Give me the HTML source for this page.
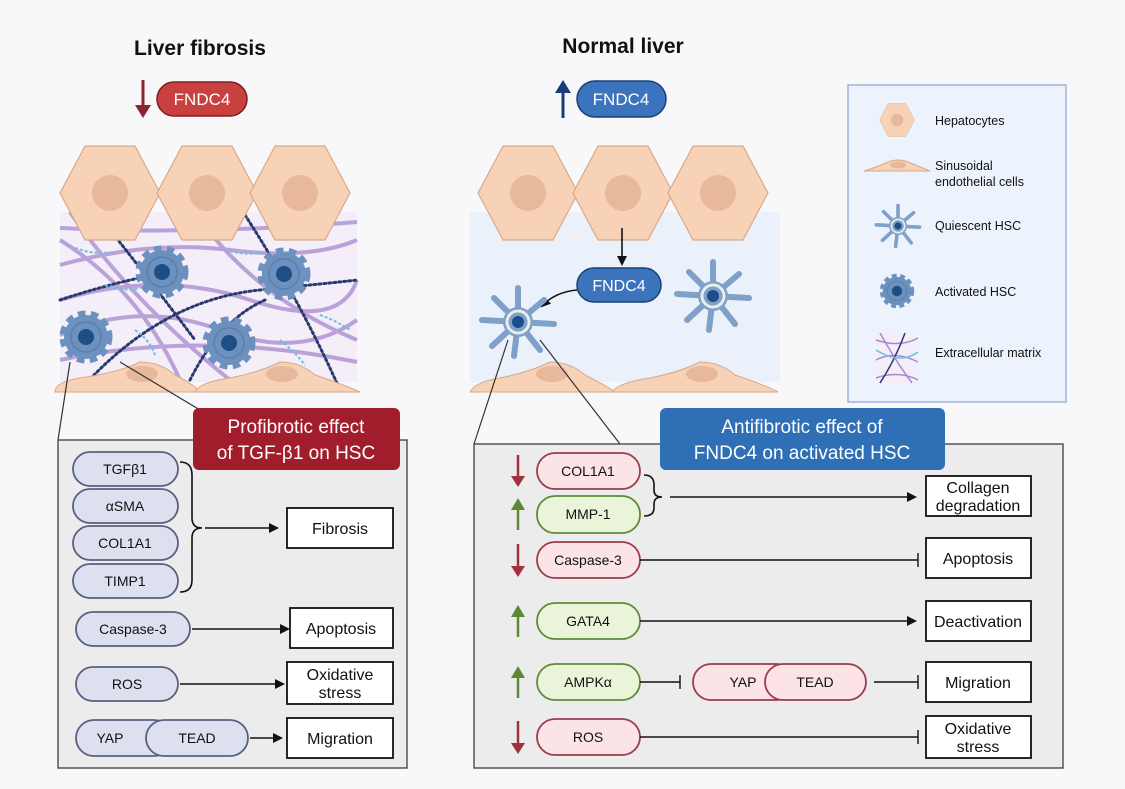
<!DOCTYPE html>
<html><head><meta charset="utf-8"><style>
html,body{margin:0;padding:0;background:#f8f8fa}
svg{display:block}
text{font-family:"Liberation Sans",sans-serif}
</style></head><body>
<svg width="1125" height="789" viewBox="0 0 1125 789" xmlns="http://www.w3.org/2000/svg">
<defs>
<g id="hep">
<polygon points="-25,-47 25,-47 50,0 25,47 -25,47 -50,0" fill="#f8d2b6" stroke="#d7a98a" stroke-width="1.2" stroke-linejoin="round"/>
<circle r="18" fill="#e8b89c"/>
</g>
<g id="act">
<circle r="22" fill="none" stroke="#6d91be" stroke-width="9" stroke-dasharray="7 5"/>
<circle r="22" fill="#6d91be"/>
<circle r="15" fill="none" stroke="#5a7fae" stroke-width="1.5"/>
<circle r="8" fill="#1d4f86"/>
</g>
<g id="qui" stroke="#7fa0c8" stroke-width="6" stroke-linecap="round">
<line x1="0" y1="0" x2="0" y2="-34"/><line x1="0" y1="0" x2="26" y2="-22"/><line x1="0" y1="0" x2="36" y2="2"/>
<line x1="0" y1="0" x2="22" y2="28"/><line x1="0" y1="0" x2="-4" y2="34"/><line x1="0" y1="0" x2="-26" y2="24"/>
<line x1="0" y1="0" x2="-36" y2="-2"/><line x1="0" y1="0" x2="-24" y2="-24"/>
<circle r="15" fill="#7fa0c8" stroke="none"/>
<circle r="11" fill="none" stroke="#e8efe8" stroke-width="3" stroke-dasharray="2 2"/>
<circle r="6" fill="#1d4f86" stroke="none"/>
</g>
<marker id="ah" markerWidth="10" markerHeight="10" refX="8" refY="5" orient="auto" markerUnits="userSpaceOnUse"><path d="M0,0 L10,5 L0,10 Z" fill="#111"/></marker>
</defs>

<!-- Titles -->
<text x="200" y="55" font-size="21" font-weight="bold" text-anchor="middle" fill="#111">Liver fibrosis</text>
<text x="623" y="53" font-size="21" font-weight="bold" text-anchor="middle" fill="#111">Normal liver</text>

<line x1="143" y1="80" x2="143" y2="108" stroke="#8b2630" stroke-width="3"/>
<path d="M135,105 L151,105 L143,118 Z" fill="#8b2630"/>
<rect x="157" y="82" width="90" height="34" rx="17" fill="#c8413f" stroke="#7d1d20" stroke-width="1.5"/>
<text x="202" y="105" font-size="17" fill="#fff" text-anchor="middle">FNDC4</text>

<line x1="563" y1="90" x2="563" y2="118" stroke="#1a3c78" stroke-width="3"/>
<path d="M555,93 L571,93 L563,80 Z" fill="#1a3c78"/>
<rect x="577" y="81" width="89" height="36" rx="18" fill="#3b73bd" stroke="#1b3f77" stroke-width="1.5"/>
<text x="621" y="105" font-size="17" fill="#fff" text-anchor="middle">FNDC4</text>

<!-- Left tissue -->
<rect x="60" y="212" width="297" height="170" fill="#f3eef7"/>
<g fill="none">
<g stroke="#a888d0" stroke-width="4" opacity="0.75">
<path d="M60,228 Q200,235 357,222"/>
<path d="M60,265 Q150,240 230,250 T357,240"/>
<path d="M60,300 Q160,270 250,300 T357,280"/>
<path d="M60,335 Q140,300 220,330 T357,320"/>
<path d="M60,360 Q200,330 357,362"/>
<path d="M70,212 Q130,300 230,380"/>
<path d="M200,220 Q260,300 357,340"/>
<path d="M60,240 Q140,290 180,380"/>
</g>
<g stroke="#2a3a6e" stroke-width="3" stroke-dasharray="2 3" stroke-linecap="round">
<path d="M110,230 Q150,280 195,340"/>
<path d="M80,390 Q160,300 260,290 T357,280"/>
<path d="M245,215 Q300,300 340,390"/>
<path d="M60,300 Q120,280 180,270"/>
<path d="M190,380 Q220,320 265,300"/>
</g>
<g stroke="#6ec0df" stroke-width="2" stroke-dasharray="3 2">
<path d="M75,248 Q95,255 110,252"/><path d="M105,285 Q125,292 140,288"/><path d="M225,250 Q245,256 265,252"/>
<path d="M135,330 Q150,340 155,355"/><path d="M280,340 Q295,352 305,365"/><path d="M320,315 Q335,320 350,330"/>
</g>
</g>
<use href="#hep" x="110" y="193"/><use href="#hep" x="207" y="193"/><use href="#hep" x="300" y="193"/>
<use href="#act" x="162" y="272"/><use href="#act" x="284" y="274"/><use href="#act" x="229" y="343"/><use href="#act" x="86" y="337"/>
<path d="M55,392 Q55,382 80,378 Q120,372 140,362 Q160,362 175,375 Q195,385 200,392 Z" fill="#f8d2b6" stroke="#d7a98a"/>
<path d="M195,392 Q200,382 230,378 Q260,372 280,362 Q300,362 315,375 Q345,385 360,392 Z" fill="#f8d2b6" stroke="#d7a98a"/>
<ellipse cx="142" cy="374" rx="16" ry="8" fill="#e8b89c"/><ellipse cx="282" cy="374" rx="16" ry="8" fill="#e8b89c"/>
<line x1="70" y1="362" x2="58" y2="440" stroke="#333" stroke-width="1.2"/>
<line x1="120" y1="362" x2="250" y2="440" stroke="#333" stroke-width="1.2"/>

<!-- Right tissue -->
<rect x="470" y="212" width="310" height="170" fill="#eaf1fb"/>
<use href="#hep" x="528" y="193"/><use href="#hep" x="623" y="193"/><use href="#hep" x="718" y="193"/>
<line x1="622" y1="228" x2="622" y2="264" stroke="#111" stroke-width="1.6" marker-end="url(#ah)"/>
<rect x="577" y="268" width="84" height="34" rx="17" fill="#3b73bd" stroke="#1b3f77" stroke-width="1.5"/>
<text x="619" y="291" font-size="16" fill="#fff" text-anchor="middle">FNDC4</text>
<path d="M577,290 Q555,292 542,306" fill="none" stroke="#111" stroke-width="1.6" marker-end="url(#ah)"/>
<use href="#qui" x="518" y="322"/><use href="#qui" x="713" y="296"/>
<path d="M470,392 Q475,382 500,378 Q530,372 550,362 Q570,362 585,375 Q605,385 615,392 Z" fill="#f8d2b6" stroke="#d7a98a"/>
<path d="M612,392 Q620,382 650,378 Q680,372 700,362 Q720,362 735,375 Q765,385 778,392 Z" fill="#f8d2b6" stroke="#d7a98a"/>
<ellipse cx="552" cy="374" rx="16" ry="8" fill="#e8b89c"/><ellipse cx="702" cy="374" rx="16" ry="8" fill="#e8b89c"/>
<line x1="508" y1="340" x2="474" y2="444" stroke="#333" stroke-width="1.2"/>
<line x1="540" y1="340" x2="620" y2="444" stroke="#333" stroke-width="1.2"/>

<!-- Legend -->
<rect x="848" y="85" width="218" height="317" fill="#edf3fc" stroke="#9fb4d6" stroke-width="1.5"/>
<g transform="translate(897,120) scale(0.35)"><use href="#hep"/></g>
<path d="M864,171 Q880,166 888,162 Q898,158 908,162 Q918,166 930,171 Z" fill="#f8d2b6" stroke="#d7a98a"/>
<ellipse cx="898" cy="165" rx="8" ry="3.5" fill="#e8b89c"/>
<g transform="translate(898,226) scale(0.6)"><use href="#qui"/></g>
<g transform="translate(897,291) scale(0.65)"><use href="#act"/></g>
<rect x="876" y="333" width="42" height="50" fill="#f3eef7"/>
<g fill="none" stroke-width="1.5">
<path d="M876,340 Q900,348 918,338" stroke="#a888d0"/><path d="M876,360 Q895,350 918,362" stroke="#a888d0"/>
<path d="M880,333 Q895,360 912,383" stroke="#a888d0"/><path d="M876,378 Q900,370 918,380" stroke="#a888d0"/>
<path d="M905,333 Q895,360 880,383" stroke="#2a3a6e"/><path d="M876,350 Q900,365 918,352" stroke="#6ec0df"/>
</g>
<g font-size="12.5" fill="#111">
<text x="935" y="125">Hepatocytes</text>
<text x="935" y="170">Sinusoidal</text><text x="935" y="186">endothelial cells</text>
<text x="935" y="230">Quiescent HSC</text>
<text x="935" y="296">Activated HSC</text>
<text x="935" y="357">Extracellular matrix</text>
</g>

<!-- Left panel -->
<rect x="58" y="440" width="349" height="328" fill="#ececec" stroke="#555" stroke-width="1.5"/>
<rect x="193" y="408" width="207" height="62" rx="6" fill="#a21d2c"/>
<text x="296" y="433" font-size="19" fill="#fff" text-anchor="middle">Profibrotic effect</text>
<text x="296" y="459" font-size="19" fill="#fff" text-anchor="middle">of TGF-β1 on HSC</text>
<g fill="#dde0ef" stroke="#5a5f80" stroke-width="1.8">
<rect x="73" y="452" width="105" height="34" rx="17"/>
<rect x="73" y="489" width="105" height="34" rx="17"/>
<rect x="73" y="526" width="105" height="34" rx="17"/>
<rect x="73" y="564" width="105" height="34" rx="17"/>
<rect x="76" y="612" width="114" height="34" rx="17"/>
<rect x="76" y="667" width="102" height="34" rx="17"/>
<rect x="76" y="720" width="96" height="36" rx="18"/>
<rect x="146" y="720" width="102" height="36" rx="18"/>
</g>
<g font-size="14" fill="#111" text-anchor="middle">
<text x="125" y="474">TGFβ1</text><text x="125" y="511">αSMA</text><text x="125" y="548">COL1A1</text><text x="125" y="586">TIMP1</text>
<text x="133" y="634">Caspase-3</text><text x="127" y="689">ROS</text><text x="110" y="743">YAP</text><text x="197" y="743">TEAD</text>
</g>
<path d="M180,462 Q192,462 192,475 L192,518 Q192,528 202,528 Q192,528 192,538 L192,580 Q192,592 180,592" fill="none" stroke="#111" stroke-width="1.6"/>
<g stroke="#111" stroke-width="1.4" marker-end="url(#ah)">
<line x1="205" y1="528" x2="277" y2="528"/>
<line x1="192" y1="629" x2="288" y2="629"/>
<line x1="180" y1="684" x2="283" y2="684"/>
<line x1="250" y1="738" x2="281" y2="738"/>
</g>
<g fill="#fff" stroke="#111" stroke-width="1.8">
<rect x="287" y="508" width="106" height="40"/>
<rect x="290" y="608" width="103" height="40"/>
<rect x="287" y="662" width="106" height="42"/>
<rect x="287" y="718" width="106" height="40"/>
</g>
<g font-size="16" fill="#111" text-anchor="middle">
<text x="340" y="534">Fibrosis</text><text x="341" y="634">Apoptosis</text>
<text x="340" y="680">Oxidative</text><text x="340" y="698">stress</text><text x="340" y="744">Migration</text>
</g>

<!-- Right panel -->
<rect x="474" y="444" width="589" height="324" fill="#ececec" stroke="#555" stroke-width="1.5"/>
<rect x="660" y="408" width="285" height="62" rx="6" fill="#2f6fb5"/>
<text x="802" y="433" font-size="19" fill="#fff" text-anchor="middle">Antifibrotic effect of</text>
<text x="802" y="459" font-size="19" fill="#fff" text-anchor="middle">FNDC4 on activated HSC</text>
<g stroke-width="1.8">
<rect x="537" y="453" width="103" height="36" rx="18" fill="#fbe3e6" stroke="#9c3a4e"/>
<rect x="537" y="496" width="103" height="37" rx="18" fill="#e9f4d9" stroke="#5f8a3a"/>
<rect x="537" y="542" width="103" height="36" rx="18" fill="#fbe3e6" stroke="#9c3a4e"/>
<rect x="537" y="603" width="103" height="36" rx="18" fill="#e9f4d9" stroke="#5f8a3a"/>
<rect x="537" y="664" width="103" height="36" rx="18" fill="#e9f4d9" stroke="#5f8a3a"/>
<rect x="693" y="664" width="102" height="36" rx="18" fill="#fbe3e6" stroke="#9c3a4e"/>
<rect x="765" y="664" width="101" height="36" rx="18" fill="#fbe3e6" stroke="#9c3a4e"/>
<rect x="537" y="719" width="103" height="36" rx="18" fill="#fbe3e6" stroke="#9c3a4e"/>
</g>
<g font-size="14" fill="#111" text-anchor="middle">
<text x="588" y="476">COL1A1</text><text x="588" y="519">MMP-1</text><text x="588" y="565">Caspase-3</text>
<text x="588" y="626">GATA4</text><text x="588" y="687">AMPKα</text><text x="743" y="687">YAP</text><text x="815" y="687">TEAD</text>
<text x="588" y="742">ROS</text>
</g>
<!-- up/down arrows -->
<g stroke-width="2.5">
<line x1="518" y1="455" x2="518" y2="478" stroke="#a33040"/><path d="M511,476 L525,476 L518,487 Z" fill="#a33040"/>
<line x1="518" y1="508" x2="518" y2="530" stroke="#5a8a35"/><path d="M511,510 L525,510 L518,498 Z" fill="#5a8a35"/>
<line x1="518" y1="544" x2="518" y2="568" stroke="#a33040"/><path d="M511,566 L525,566 L518,577 Z" fill="#a33040"/>
<line x1="518" y1="615" x2="518" y2="637" stroke="#5a8a35"/><path d="M511,617 L525,617 L518,605 Z" fill="#5a8a35"/>
<line x1="518" y1="676" x2="518" y2="698" stroke="#5a8a35"/><path d="M511,678 L525,678 L518,666 Z" fill="#5a8a35"/>
<line x1="518" y1="721" x2="518" y2="745" stroke="#a33040"/><path d="M511,743 L525,743 L518,754 Z" fill="#a33040"/>
</g>
<path d="M644,475 Q654,475 654,485 L654,490 Q654,497 662,497 Q654,497 654,504 L654,508 Q654,516 644,516" fill="none" stroke="#111" stroke-width="1.6"/>
<g stroke="#111" stroke-width="1.4">
<line x1="670" y1="497" x2="915" y2="497" marker-end="url(#ah)"/>
<line x1="640" y1="560" x2="918" y2="560"/><line x1="918" y1="553" x2="918" y2="567"/>
<line x1="640" y1="621" x2="915" y2="621" marker-end="url(#ah)"/>
<line x1="640" y1="682" x2="680" y2="682"/><line x1="680" y1="675" x2="680" y2="689"/>
<line x1="874" y1="682" x2="918" y2="682"/><line x1="918" y1="675" x2="918" y2="689"/>
<line x1="640" y1="737" x2="918" y2="737"/><line x1="918" y1="730" x2="918" y2="744"/>
</g>
<g fill="#fff" stroke="#111" stroke-width="1.8">
<rect x="926" y="476" width="105" height="40"/>
<rect x="926" y="538" width="105" height="40"/>
<rect x="926" y="601" width="105" height="40"/>
<rect x="926" y="662" width="105" height="40"/>
<rect x="926" y="716" width="105" height="42"/>
</g>
<g font-size="16" fill="#111" text-anchor="middle">
<text x="978" y="493">Collagen</text><text x="978" y="511">degradation</text>
<text x="978" y="564">Apoptosis</text><text x="978" y="627">Deactivation</text><text x="978" y="688">Migration</text>
<text x="978" y="734">Oxidative</text><text x="978" y="752">stress</text>
</g>
</svg>
</body></html>
